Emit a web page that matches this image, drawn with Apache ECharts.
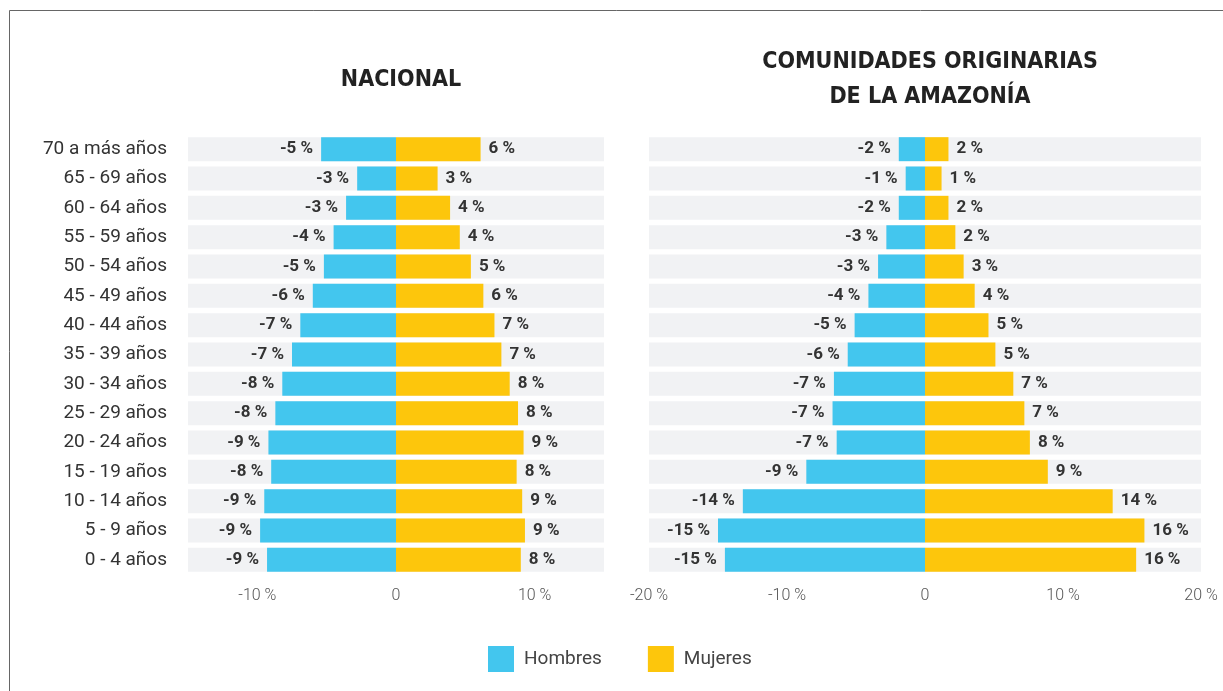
<!DOCTYPE html>
<html>
<head>
<meta charset="utf-8">
<script src="https://cdn.jsdelivr.net/npm/echarts@6/dist/echarts.min.js"></script>
<style>
html,body{margin:0;padding:0;background:#fff;}
#chart{width:1223px;height:691px;}
</style>
</head>
<body>
<div id="chart"></div>
<script>
// Age groups, top to bottom
var categories = ['70 a más años','65 - 69 años','60 - 64 años','55 - 59 años','50 - 54 años','45 - 49 años','40 - 44 años','35 - 39 años','30 - 34 años','25 - 29 años','20 - 24 años','15 - 19 años','10 - 14 años','5 - 9 años','0 - 4 años'];

// NACIONAL (bar lengths, %)
var hombresNacional = [-5.4,-2.8,-3.6,-4.5,-5.2,-6.0,-6.9,-7.5,-8.2,-8.7,-9.2,-9.0,-9.5,-9.8,-9.3];
var mujeresNacional = [6.1,3.0,3.9,4.6,5.4,6.3,7.1,7.6,8.2,8.8,9.2,8.7,9.1,9.3,9.0];
// NACIONAL printed labels
var hombresNacionalLabel = [-5,-3,-3,-4,-5,-6,-7,-7,-8,-8,-9,-8,-9,-9,-9];
var mujeresNacionalLabel = [6,3,4,4,5,6,7,7,8,8,9,8,9,9,8];

// COMUNIDADES ORIGINARIAS DE LA AMAZONÍA (bar lengths, %)
var hombresAmazonia = [-1.9,-1.4,-1.9,-2.8,-3.4,-4.1,-5.1,-5.6,-6.6,-6.7,-6.4,-8.6,-13.2,-15.0,-14.5];
var mujeresAmazonia = [1.7,1.2,1.7,2.2,2.8,3.6,4.6,5.1,6.4,7.2,7.6,8.9,13.6,15.9,15.3];
// Amazonía printed labels
var hombresAmazoniaLabel = [-2,-1,-2,-3,-3,-4,-5,-6,-7,-7,-7,-9,-14,-15,-15];
var mujeresAmazoniaLabel = [2,1,2,2,3,4,5,5,7,7,8,9,14,16,16];

var legendNames = ['Hombres','Mujeres'];
var titles = ['NACIONAL','COMUNIDADES ORIGINARIAS\nDE LA AMAZONÍA'];

var C_H = '#43c6ee', C_M = '#fdc60c', BG = '#f1f2f4';
var FONT = 'Roboto';
var TFONT = "'DejaVu Sans Condensed', 'Roboto', sans-serif";

function axisFmt(v){
  if (v % 10 !== 0) return '';
  return v === 0 ? '0' : v + ' %';
}
function labFmt(arr){
  return function(p){ return arr[p.dataIndex] + ' %'; };
}

var labelStyle = {color:'#333', fontFamily:FONT, fontWeight:'bold', fontSize:17, distance:8};

function mkSeries(name, data, labels, xi, pos, color){
  return {
    name:name, type:'bar', xAxisIndex:xi, yAxisIndex:xi, stack:'s'+xi,
    data:data, barWidth:24,
    showBackground: name === 'Hombres',
    backgroundStyle:{color:BG},
    itemStyle:{color:color},
    label:Object.assign({show:true, position:pos, formatter:labFmt(labels)}, labelStyle),
    emphasis:{disabled:true}, animation:false
  };
}

var chart = echarts.init(document.getElementById('chart'));
chart.setOption({
  animation:false,
  graphic:[{type:'polyline', shape:{points:[[9.5,700],[9.5,10.5],[1230,10.5]]}, style:{stroke:'#666', lineWidth:1, fill:null}}],
  title:[
    {text:titles[0], left:396, top:64, textAlign:'center',
     textStyle:{fontFamily:TFONT, fontWeight:'bold', fontSize:23, color:'#222'}},
    {text:titles[1], left:925, top:40, textAlign:'center',
     textStyle:{fontFamily:TFONT, fontWeight:'bold', fontSize:23, color:'#222', lineHeight:35}}
  ],
  legend:{
    data:legendNames, bottom:14, left:483, itemWidth:26, itemHeight:26, itemGap:46,
    icon:'rect', textStyle:{fontFamily:FONT, fontSize:19, color:'#444', padding:[0,0,0,5]}
  },
  grid:[
    {left:188, width:416, top:134.5, height:440},
    {left:649, width:552, top:134.5, height:440}
  ],
  xAxis:[
    {gridIndex:0, type:'value', min:-15, max:15, interval:5,
     axisLine:{show:false}, axisTick:{show:false}, splitLine:{show:false},
     axisLabel:{formatter:axisFmt, color:'#555', fontFamily:FONT, fontWeight:300, fontSize:16, margin:13}},
    {gridIndex:1, type:'value', min:-20, max:20, interval:10,
     axisLine:{show:false}, axisTick:{show:false}, splitLine:{show:false},
     axisLabel:{formatter:axisFmt, color:'#555', fontFamily:FONT, fontWeight:300, fontSize:16, margin:13}}
  ],
  yAxis:[
    {gridIndex:0, type:'category', data:categories, inverse:true,
     axisLine:{show:false}, axisTick:{show:false},
     axisLabel:{color:'#333', fontFamily:FONT, fontSize:19, margin:21}},
    {gridIndex:1, type:'category', data:categories, inverse:true,
     axisLine:{show:false}, axisTick:{show:false}, axisLabel:{show:false}}
  ],
  series:[
    mkSeries('Hombres', hombresNacional, hombresNacionalLabel, 0, 'left', C_H),
    mkSeries('Mujeres', mujeresNacional, mujeresNacionalLabel, 0, 'right', C_M),
    mkSeries('Hombres', hombresAmazonia, hombresAmazoniaLabel, 1, 'left', C_H),
    mkSeries('Mujeres', mujeresAmazonia, mujeresAmazoniaLabel, 1, 'right', C_M)
  ]
});
</script>
</body>
</html>
